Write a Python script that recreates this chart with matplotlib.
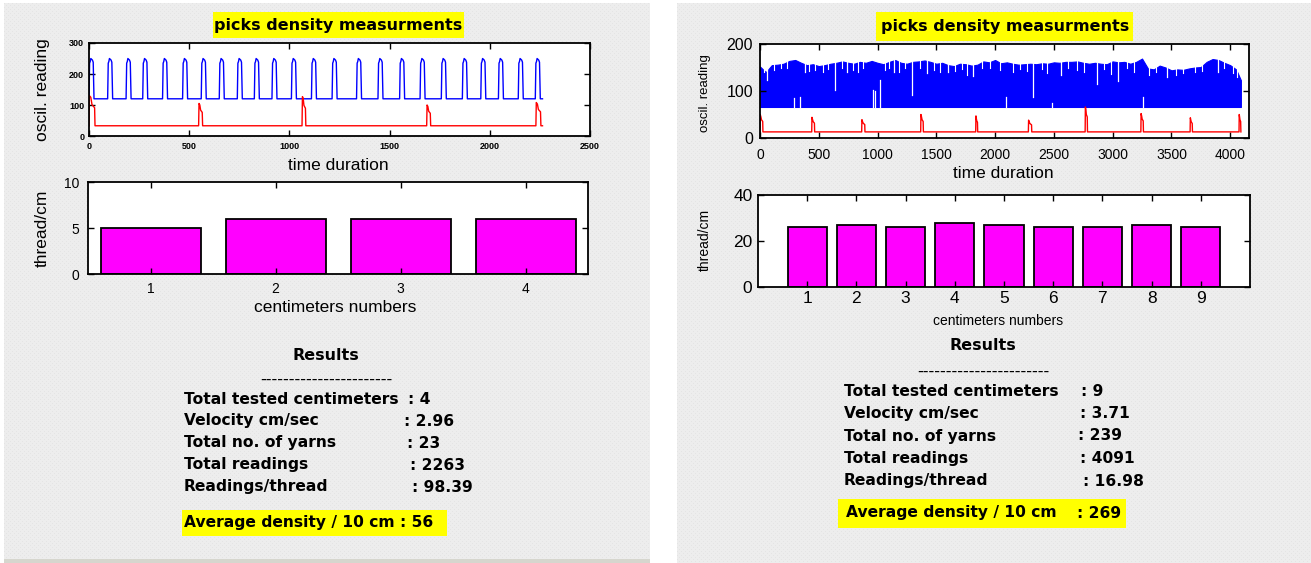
import numpy as np
import matplotlib
matplotlib.use("Agg")
import matplotlib.pyplot as plt
from matplotlib.patches import Rectangle

W, H = 1311, 563
FONT = "Liberation Sans"
BOLD = "DejaVu Sans"

# ---- left test: 4 cm sample ----
# rising edges of the oscilloscope pulses (blue trace)
left_pulse_t = [0, 93, 185, 268, 367, 467, 560, 650, 740, 825, 913, 1010, 1110,
                1213, 1335, 1442, 1550, 1652, 1758, 1863, 1955, 2043, 2142, 2227]
left_base, left_peak = 120, 250
left_end = 2263
# red reference trace: (start, width, peak)
left_red = [(0, 30, 130), (547, 20, 105), (1063, 19, 127), (1685, 20, 100), (2230, 25, 108)]
left_red_base = 33
left_cm = [1, 2, 3, 4]
left_threads = [5, 6, 6, 6]
left_results = [("Total tested centimeters", ": 4", 408),
                ("Velocity cm/sec", ": 2.96", 404),
                ("Total no. of yarns", ": 23", 407),
                ("Total readings", ": 2263", 410),
                ("Readings/thread", ": 98.39", 412)]
left_avg = "Average density / 10 cm : 56"

# ---- right test: 9 cm sample ----
right_t = np.arange(0, 4100, 50).tolist() + [4091]
right_upper = [152, 140, 155, 156, 158, 164, 166, 160, 155, 157, 153, 155, 158, 160,
               163, 160, 158, 162, 160, 164, 160, 157, 162, 166, 160, 158, 162, 163,
               165, 162, 158, 160, 155, 153, 158, 157, 154, 156, 163, 161, 166, 159,
               161, 158, 156, 157, 158, 157, 159, 158, 161, 160, 162, 162, 163, 160,
               158, 160, 158, 157, 163, 161, 162, 158, 162, 169, 148, 146, 154, 150,
               144, 146, 145, 148, 150, 151, 162, 168, 166, 160, 155, 146, 123]
right_lower = 66
# gaps in the dense trace: (t, low, high)
right_gaps = [(62, 124, 170), (290, 66, 85), (340, 66, 88), (380, 140, 170),
              (638, 102, 170), (740, 140, 170), (959, 66, 102), (979, 66, 100),
              (1021, 66, 124), (1140, 140, 170), (1296, 91, 170), (1420, 138, 170),
              (1600, 140, 170), (1815, 131, 170), (2094, 66, 87), (2321, 87, 170),
              (2482, 66, 75), (2560, 135, 170), (2865, 115, 170), (3049, 122, 170),
              (3257, 66, 87), (3460, 130, 170), (3900, 140, 170)]
# shallow notches along the top of the dense trace: (t, low)
right_notches = [(30, 140), (120, 145), (180, 148), (230, 150), (420, 142), (470, 145),
                 (540, 140), (580, 147), (700, 150), (790, 145), (830, 140), (880, 148),
                 (1060, 145), (1100, 150), (1180, 140), (1230, 148), (1360, 150),
                 (1480, 145), (1530, 140), (1660, 142), (1720, 146), (1760, 135),
                 (1890, 148), (1960, 150), (2040, 145), (2150, 140), (2210, 146),
                 (2270, 142), (2400, 146), (2440, 138), (2620, 150), (2700, 145),
                 (2760, 140), (2930, 146), (2990, 136), (3120, 148), (3180, 140),
                 (3310, 135), (3370, 140), (3540, 134), (3600, 138), (3700, 140),
                 (3760, 142), (3950, 150), (4020, 138), (4060, 130)]
right_red = [(0, 25, 50), (440, 25, 44), (865, 28, 39), (1367, 23, 50), (1835, 17, 47),
             (2283, 29, 38), (2766, 20, 66), (3240, 22, 52), (3659, 20, 43), (4075, 16, 50)]
right_red_base = 13
right_end = 4091
right_cm = [1, 2, 3, 4, 5, 6, 7, 8, 9]
right_threads = [26, 27, 26, 28, 27, 26, 26, 27, 26]
right_results = [("Total tested centimeters", ": 9", 1081),
                 ("Velocity cm/sec", ": 3.71", 1080),
                 ("Total no. of yarns", ": 239", 1078),
                 ("Total readings", ": 4091", 1080),
                 ("Readings/thread", ": 16.98", 1083)]
right_avg_label = "Average density / 10 cm"
right_avg_value = ": 269"

TITLE = "picks density measurments"


def pulse_trace(starts, base, peak, end):
    t, y = [0], [base]
    for t0 in starts:
        t += [t0, t0 + 3, t0 + 6, t0 + 9, t0 + 17, t0 + 21, t0 + 25]
        y += [base, peak - 15, peak - 10, peak, peak - 5, peak - 12, base]
    t.append(end)
    y.append(base)
    return t[1:], y[1:]


def spike_trace(spikes, base, end):
    t, y = [0], [base]
    for t0, w, pk in spikes:
        t += [t0, t0 + 2, t0 + 0.3 * w, t0 + 0.5 * w, t0 + w - 2, t0 + w]
        y += [base, pk, pk - 5, pk - 0.3 * (pk - base), pk - 0.4 * (pk - base), base]
    t.append(end)
    y.append(base)
    return t, y


fig = plt.figure(figsize=(W / 100, H / 100), dpi=100)
fig.patch.set_facecolor("white")

bg = fig.add_axes([0, 0, 1, 1])
bg.set_xlim(0, W)
bg.set_ylim(H, 0)
bg.axis("off")


def panel(x0, y0, x1, y1):
    h, w = y1 - y0, x1 - x0
    yy, xx = np.mgrid[0:h, 0:w]
    img = np.full((h, w, 3), 237, dtype=np.uint8)
    dots = ((xx + yy) % 4 == 0) & (yy % 2 == 0)
    img[dots] = 228
    bg.imshow(img, extent=(x0, x1, y1, y0), interpolation="nearest", aspect="auto")


panel(4, 3, 650, 559)
bg.add_patch(Rectangle((4, 559), 646, 4, color="#d6d6ce", lw=0))
panel(677, 3, 1311, 563)
bg.set_xlim(0, W)
bg.set_ylim(H, 0)


def px_axes(x0, y0, x1, y1):
    return fig.add_axes([x0 / W, 1 - y1 / H, (x1 - x0) / W, (y1 - y0) / H])


def style(ax, size, xpad, ypad, weight="normal"):
    ax.tick_params(direction="in", top=True, right=True, length=4, width=1,
                   labelsize=size, pad=ypad, axis="y")
    ax.tick_params(direction="in", top=True, right=True, length=4, width=1,
                   labelsize=size, pad=xpad, axis="x")
    for s in ax.spines.values():
        s.set_linewidth(1.3)
    for lab in ax.get_xticklabels() + ax.get_yticklabels():
        lab.set_family(FONT)
        lab.set_fontweight(weight)


def ybox(x0, y0, x1, y1):
    bg.add_patch(Rectangle((x0, y0), x1 - x0, y1 - y0, color="#ffff00", lw=0))


def bold(x, y, s, ha="left", size=11.2):
    bg.text(x, y, s, ha=ha, va="center", fontsize=size, fontweight="bold", family=BOLD)


# ---------- left panel ----------
ybox(213, 12, 464, 38)
bold(338, 25.5, TITLE, ha="center", size=11.5)

ax = px_axes(89, 43, 590, 136)
t, y = pulse_trace(left_pulse_t, left_base, left_peak, left_end)
ax.plot(t, y, color="#0000ff", lw=1.0)
t, y = spike_trace(left_red, left_red_base, left_end)
ax.plot(t, y, color="#ff0000", lw=1.0)
ax.set_xlim(0, 2500)
ax.set_ylim(0, 300)
ax.set_xticks(range(0, 2501, 500))
ax.set_yticks(range(0, 301, 100))
style(ax, 6.5, 4, 3.5, weight="bold")
bg.text(42, 90, "oscil. reading", rotation=90, ha="center", va="center",
        fontsize=12.5, family=FONT)
bg.text(338, 166, "time duration", ha="center", va="center", fontsize=12.5, family=FONT)

ax = px_axes(88, 182, 588, 274)
ax.bar(left_cm, left_threads, width=0.8, color="#ff00ff", edgecolor="black", lw=1.3)
ax.set_xlim(0.5, 4.5)
ax.set_ylim(0, 10)
ax.set_xticks(left_cm)
ax.set_yticks([0, 5, 10])
style(ax, 10, 6, 6)
bg.text(42, 228, "thread/cm", rotation=90, ha="center", va="center",
        fontsize=12.5, family=FONT)
bg.text(335, 308, "centimeters numbers", ha="center", va="center", fontsize=12.5, family=FONT)

bold(326, 355, "Results", ha="center", size=11.5)
bg.text(326, 379, "-" * 23, ha="center", va="center", fontsize=11.5, family=BOLD)
for i, (lab, val, cx) in enumerate(left_results):
    yl = 399 + 22 * i
    bold(184, yl, lab)
    bold(cx, yl, val)
ybox(182, 510, 447, 536)
bold(184, 523, left_avg)

# ---------- right panel ----------
ybox(876, 12, 1133, 41)
bold(1005, 26.5, TITLE, ha="center", size=11.5)

ax = px_axes(760, 44, 1249, 138)
ax.fill_between(right_t, right_lower, right_upper, color="#0000ff", lw=0.8)
for tg, lo, hi in right_gaps:
    ax.plot([tg, tg], [lo, hi], color="white", lw=0.9)
for tg, lo in right_notches:
    ax.plot([tg, tg], [lo, 175], color="white", lw=0.8)
t, y = spike_trace(right_red, right_red_base, right_end)
ax.plot(t, y, color="#ff0000", lw=1.0)
ax.set_xlim(0, 4160)
ax.set_ylim(0, 200)
ax.set_xticks(range(0, 4001, 500))
ax.set_yticks([0, 100, 200])
style(ax, 10, 7, 5)
for lab in ax.get_yticklabels():
    lab.set_fontsize(11.5)
bg.text(705, 93, "oscil. reading", rotation=90, ha="center", va="center",
        fontsize=9.5, family=FONT)
bg.text(1003, 173, "time duration", ha="center", va="center", fontsize=12.5, family=FONT)

ax = px_axes(758, 195, 1250, 287)
ax.bar(right_cm, right_threads, width=0.8, color="#ff00ff", edgecolor="black", lw=1.3)
ax.set_xlim(0, 10)
ax.set_ylim(0, 40)
ax.set_xticks(right_cm)
ax.set_yticks([0, 20, 40])
style(ax, 12.5, 3, 4)
bg.text(705, 240, "thread/cm", rotation=90, ha="center", va="center",
        fontsize=10, family=FONT)
bg.text(998, 321, "centimeters numbers", ha="center", va="center", fontsize=10, family=FONT)

bold(983, 346, "Results", ha="center", size=11.5)
bg.text(983, 371, "-" * 23, ha="center", va="center", fontsize=11.5, family=BOLD)
for i, (lab, val, cx) in enumerate(right_results):
    yl = 391 + 22.5 * i
    bold(844, yl, lab)
    bold(cx, yl, val)
ybox(838, 499, 1126, 528)
bold(846, 513, right_avg_label)
bold(1077, 513, right_avg_value)

fig.savefig("out.png", dpi=100)
